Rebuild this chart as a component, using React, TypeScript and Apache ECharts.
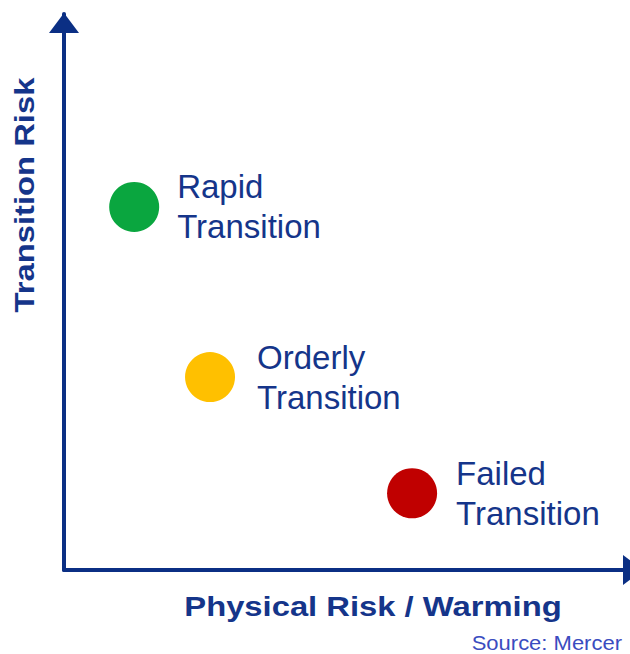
import React, { useEffect, useRef } from "react";
import * as echarts from "echarts";

// Scenario positions on the physical-risk (x) / transition-risk (y) plane
const scenarioNames = ["Rapid\nTransition", "Orderly\nTransition", "Failed\nTransition"];
const physicalRisk = [12.4, 25.8, 61.5];
const transitionRisk = [65.3, 34.7, 13.8];
const scenarioColors = ["#0aa63f", "#ffc000", "#c00000"];

const xAxisTitle = "Physical Risk / Warming";
const yAxisTitle = "Transition Risk";
const sourceNote = "Source: Mercer";

const NAVY = "#0b2f84";
const TEXT = "#15358a";
const FONT = "'Liberation Sans', Arial, sans-serif";

export default function App() {
  const ref = useRef<HTMLDivElement>(null);

  useEffect(() => {
    if (!ref.current) return;
    const chart = echarts.init(ref.current, undefined, { renderer: "svg" });

    const labelGap = [18, 22, 19];
    const data = scenarioNames.map((name, i) => ({
      name,
      value: [physicalRisk[i], transitionRisk[i]],
      itemStyle: { color: scenarioColors[i], opacity: 1 },
      label: { distance: labelGap[i] },
    }));

    const axisLine = (endOffset: number) => ({
      show: true,
      lineStyle: { color: NAVY, width: 4 },
      symbol: ["none", "triangle"],
      symbolSize: [30, 20],
      symbolOffset: [0, endOffset],
    });

    chart.setOption({
      animation: false,
      backgroundColor: "#ffffff",
      grid: { left: 64, right: 0, top: 14, bottom: 84, containLabel: false },
      xAxis: {
        type: "value",
        min: 0,
        max: 100,
        axisLine: axisLine(3),
        axisTick: { show: false },
        axisLabel: { show: false },
        splitLine: { show: false },
      },
      yAxis: {
        type: "value",
        min: 0,
        max: 100,
        axisLine: axisLine(-9),
        axisTick: { show: false },
        axisLabel: { show: false },
        splitLine: { show: false },
      },
      series: [
        {
          type: "scatter",
          symbol: "circle",
          symbolSize: 50,
          data,
          emphasis: { disabled: true },
          label: {
            show: true,
            position: "right",
            formatter: (p: any) => p.name,
            color: TEXT,
            fontFamily: FONT,
            fontSize: 33,
            lineHeight: 40,
            align: "left",
          },
        },
      ],
      graphic: [
        {
          type: "text",
          x: 373,
          y: 606,
          scaleX: 1.17,
          style: {
            text: xAxisTitle,
            fill: TEXT,
            font: `bold 28px ${FONT}`,
            align: "center",
            verticalAlign: "middle",
          },
        },
        {
          type: "text",
          x: 24,
          y: 195,
          rotation: Math.PI / 2,
          scaleX: 1.17,
          style: {
            text: yAxisTitle,
            fill: TEXT,
            font: `bold 28px ${FONT}`,
            align: "center",
            verticalAlign: "middle",
          },
        },
        {
          type: "text",
          x: 622,
          y: 643,
          scaleX: 1.1,
          style: {
            text: sourceNote,
            fill: "#3a4cc0",
            font: `20px ${FONT}`,
            align: "right",
            verticalAlign: "middle",
          },
        },
      ],
    });

    return () => chart.dispose();
  }, []);

  return (
    <div
      ref={ref}
      style={{ position: "fixed", left: 0, top: 0, width: 630, height: 654 }}
    />
  );
}
